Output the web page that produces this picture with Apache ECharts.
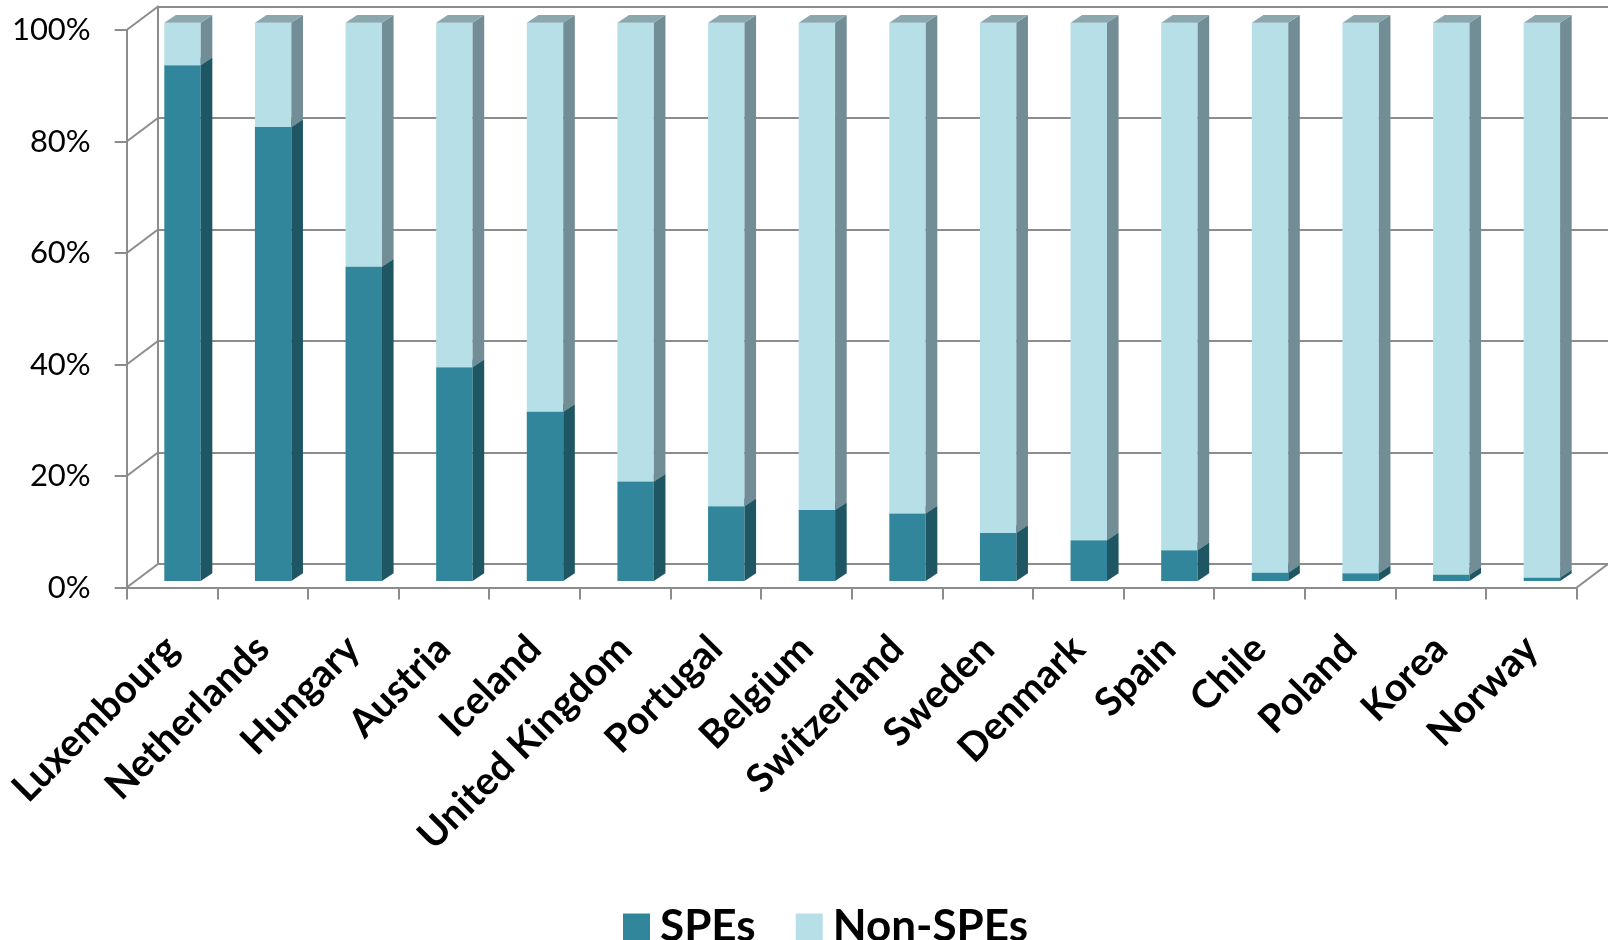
<!DOCTYPE html>
<html><head><meta charset="utf-8">
<script src="https://cdn.jsdelivr.net/npm/echarts@6/dist/echarts.min.js"></script>
<style>html,body{margin:0;padding:0;background:#fff}#c{width:1608px;height:940px}</style>
</head><body><div id="c"></div>
<script>
// ---- data ----
var categories = ['Luxembourg','Netherlands','Hungary','Austria','Iceland','United Kingdom','Portugal','Belgium','Switzerland','Sweden','Denmark','Spain','Chile','Poland','Korea','Norway'];
var speShare    = [92.4, 81.3, 56.3, 38.3, 30.3, 17.8, 13.4, 12.7, 12.1, 8.6, 7.3, 5.5, 1.5, 1.4, 1.1, 0.6];
var nonSpeShare = [7.6, 18.7, 43.7, 61.7, 69.7, 82.2, 86.6, 87.3, 87.9, 91.4, 92.7, 94.5, 98.5, 98.6, 98.9, 99.4];
var yTicks = [0, 20, 40, 60, 80, 100];
var seriesNames = ['SPEs', 'Non-SPEs'];

// ---- style / layout ----
var FRONT = {left: 126.7, right: 31.3, top: 30, bottom: 352.5};
var WALL_DX = 31.3, WALL_DY = 23.5;
var BAR_SHIFT_X = 10.5;
var BAR = {top: 22.7, bottom: 359};
var BAR_FRAC = 0.402, DX = 11.6, DY = 7.7;
var GRID_COLOR = '#8c8c8c';
var COL = [
  {front: '#31869B', side: '#1F5664', top: '#2A7384'},
  {front: '#B7DFE8', side: '#728D95', top: '#8BA8AF'}
];
var FONT = 'Lato, "Open Sans", sans-serif';

function barRender(col) {
  return function (params, api) {
    var i = api.value(0), s = api.value(1), e = api.value(2);
    var b = api.coord([i, s]), t = api.coord([i, e]);
    var w = api.size([1, 0])[0] * BAR_FRAC;
    var x0 = b[0] - w / 2, x1 = b[0] + w / 2, yb = b[1], yt = t[1];
    return {type: 'group', children: [
      {type: 'rect', shape: {x: x0, y: yt, width: w, height: yb - yt}, style: {fill: col.front}},
      {type: 'polygon', shape: {points: [[x1, yb], [x1 + DX, yb - DY], [x1 + DX, yt - DY], [x1, yt]]}, style: {fill: col.side}},
      {type: 'polygon', shape: {points: [[x0, yt], [x0 + DX, yt - DY], [x1 + DX, yt - DY], [x1, yt]]}, style: {fill: col.top}}
    ]};
  };
}

var speData = categories.map(function (c, i) { return [i, 0, speShare[i]]; });
var nonData = categories.map(function (c, i) { return [i, speShare[i], speShare[i] + nonSpeShare[i]]; });

var chart = echarts.init(document.getElementById('c'), null, {renderer: 'canvas'});
chart.setOption({
  animation: false,
  backgroundColor: '#fff',
  grid: [
    {left: FRONT.left + BAR_SHIFT_X, right: FRONT.right - BAR_SHIFT_X, top: BAR.top, bottom: BAR.bottom},
    {left: FRONT.left, right: FRONT.right, top: FRONT.top, bottom: FRONT.bottom},
    {left: FRONT.left + WALL_DX, right: 0, top: FRONT.top - WALL_DY, bottom: FRONT.bottom + WALL_DY}
  ],
  xAxis: [
    {gridIndex: 0, type: 'category', data: categories, show: false},
    {gridIndex: 1, type: 'category', data: categories, boundaryGap: true,
      axisLine: {show: true, lineStyle: {color: GRID_COLOR, width: 2}},
      axisTick: {show: true, length: 12, lineStyle: {color: GRID_COLOR, width: 2}},
      axisLabel: {interval: 0, rotate: 45, margin: 55, color: '#000', fontFamily: FONT, fontWeight: 'bold', fontSize: 39}},
    {gridIndex: 2, type: 'category', data: categories, show: false}
  ],
  yAxis: [
    {gridIndex: 0, type: 'value', min: 0, max: 100, show: false},
    {gridIndex: 1, type: 'value', min: 0, max: 100, interval: 20,
      axisLine: {show: true, lineStyle: {color: GRID_COLOR, width: 2}},
      axisTick: {show: true, length: 12, lineStyle: {color: GRID_COLOR, width: 2}},
      splitLine: {show: false},
      axisLabel: {margin: 36, color: '#000', fontFamily: FONT, fontSize: 31,
        formatter: function (v) { return v + '%'; }}},
    {gridIndex: 2, type: 'value', min: 0, max: 100, interval: 20,
      axisLine: {show: true, lineStyle: {color: GRID_COLOR, width: 2}},
      axisTick: {show: false}, axisLabel: {show: false},
      splitLine: {show: true, lineStyle: {color: GRID_COLOR, width: 2}}}
  ],
  legend: {
    data: seriesNames, left: 618, top: 900, icon: 'rect', itemWidth: 27, itemHeight: 27, itemGap: 40,
    textStyle: {fontFamily: FONT, fontWeight: 'bold', fontSize: 44, color: '#000', padding: [0, 0, 0, 5]}
  },
  series: [
    {type: 'custom', name: 'wall-diagonals', xAxisIndex: 1, yAxisIndex: 1, silent: true, z: 1,
      data: yTicks.map(function (v) { return [0, v]; }),
      renderItem: function (params, api) {
        var y = api.coord([0, api.value(1)])[1];
        var x = params.coordSys.x;
        return {type: 'line', shape: {x1: x, y1: y, x2: x + WALL_DX, y2: y - WALL_DY},
          style: {stroke: GRID_COLOR, lineWidth: 2}};
      }},
    {type: 'custom', name: 'floor-edge', xAxisIndex: 1, yAxisIndex: 1, silent: true, z: 1,
      data: [[categories.length - 1, 0]],
      renderItem: function (params, api) {
        var y = api.coord([0, api.value(1)])[1];
        var x = params.coordSys.x + params.coordSys.width;
        return {type: 'line', shape: {x1: x, y1: y, x2: x + WALL_DX, y2: y - WALL_DY},
          style: {stroke: GRID_COLOR, lineWidth: 2}};
      }},
    {type: 'custom', name: seriesNames[0], xAxisIndex: 0, yAxisIndex: 0, z: 3,
      itemStyle: {color: COL[0].front}, renderItem: barRender(COL[0]), data: speData},
    {type: 'custom', name: seriesNames[1], xAxisIndex: 0, yAxisIndex: 0, z: 4,
      itemStyle: {color: COL[1].front}, renderItem: barRender(COL[1]), data: nonData}
  ]
});
</script></body></html>
